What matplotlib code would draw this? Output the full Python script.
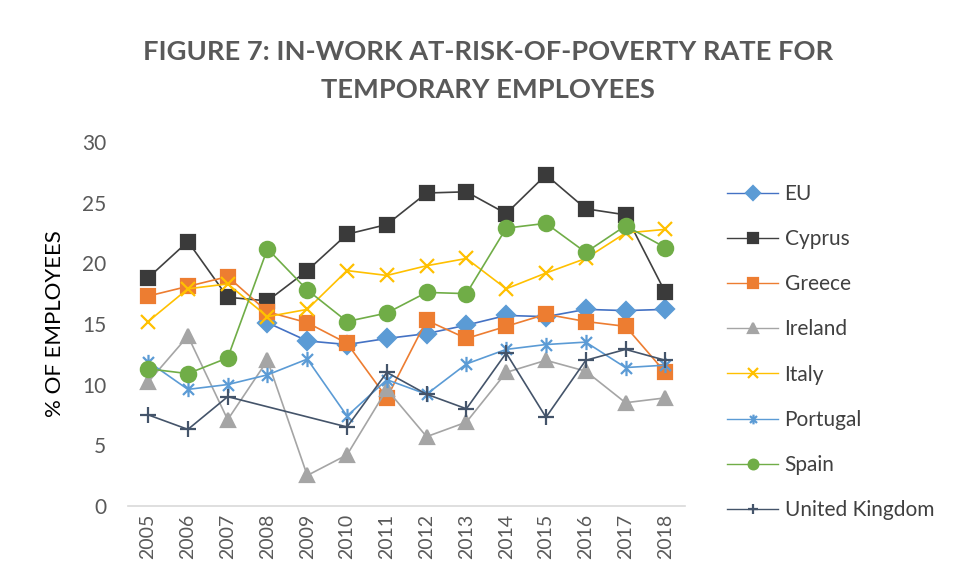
import numpy as np
import matplotlib
matplotlib.use('Agg')
import matplotlib.pyplot as plt
from matplotlib.path import Path

plt.rcParams['font.family'] = ['Lato', 'DejaVu Sans']

years = ['2005', '2006', '2007', '2008', '2009', '2010', '2011',
         '2012', '2013', '2014', '2015', '2016', '2017', '2018']
nan = np.nan

# values (% of employees)
eu = [nan, nan, nan, 15.1, 13.6, 13.3, 13.8, 14.2, 14.9, 15.7, 15.6, 16.2, 16.1, 16.2]
cyprus = [18.8, 21.8, 17.2, 16.9, 19.4, 22.4, 23.2, 25.8, 25.9, 24.1, 27.3, 24.5, 24.0, 17.6]
greece = [17.3, 18.1, 18.9, 16.0, 15.1, 13.4, 8.9, 15.3, 13.8, 14.8, 15.8, 15.2, 14.8, 11.0]
ireland = [10.2, 14.0, 7.1, 12.0, 2.5, 4.2, 9.6, 5.7, 6.9, 11.0, 12.0, 11.1, 8.5, 8.9]
italy = [15.2, 17.9, 18.3, 15.6, 16.2, 19.4, 19.0, 19.8, 20.4, 17.9, 19.2, 20.4, 22.5, 22.8]
portugal = [11.9, 9.6, 10.0, 10.8, 12.1, 7.4, 10.4, 9.2, 11.7, 12.9, 13.3, 13.5, 11.4, 11.6]
spain = [11.3, 10.9, 12.2, 21.2, 17.8, 15.2, 15.9, 17.6, 17.5, 22.9, 23.3, 20.9, 23.1, 21.3]
uk = [7.5, 6.3, 9.0, nan, nan, 6.5, 11.0, 9.2, 8.0, 12.6, 7.3, 12.0, 12.9, 12.0]

# excel style asterisk: vertical bar plus an x
star = Path([(0, -1), (0, 1), (-0.72, -0.72), (0.72, 0.72), (-0.72, 0.72), (0.72, -0.72)],
            [Path.MOVETO, Path.LINETO, Path.MOVETO, Path.LINETO, Path.MOVETO, Path.LINETO])

series = [
    ('EU', eu, '#4472C4', '#5B9BD5', 'D', 9),
    ('Cyprus', cyprus, '#404040', '#3A3A3A', 's', 10),
    ('Greece', greece, '#ED7D31', '#ED7D31', 's', 10),
    ('Ireland', ireland, '#A5A5A5', '#A5A5A5', '^', 10),
    ('Italy', italy, '#FFC000', '#FFC000', 'x', 10),
    ('Portugal', portugal, '#5B9BD5', '#5B9BD5', star, 11),
    ('Spain', spain, '#70AD47', '#70AD47', 'o', 11),
    ('United Kingdom', uk, '#44546A', '#44546A', '+', 11),
]

fig = plt.figure(figsize=(9.57, 5.8), dpi=100)
ax = fig.add_axes([0.134, 0.128, 0.582, 0.627])

x = np.arange(len(years))
for name, vals, lc, mc, mk, ms in series:
    v = np.array(vals, dtype=float)
    ok = ~np.isnan(v)
    ax.plot(x[ok], v[ok], color=lc, linewidth=1.2, marker=mk, markersize=ms,
            markerfacecolor=mc, markeredgecolor=mc, markeredgewidth=1.6, label=name)

ax.set_xlim(-0.5, len(years) - 0.5)
ax.set_ylim(0, 30)
ax.set_yticks(range(0, 31, 5))
ax.set_xticks(x)
ax.set_xticklabels(years, rotation=90, fontsize=14, color='#595959')
ax.tick_params(axis='y', labelsize=15, labelcolor='#595959', length=0, pad=16)
ax.tick_params(axis='x', length=0, pad=6)
for s in ['top', 'right', 'left']:
    ax.spines[s].set_visible(False)
ax.spines['bottom'].set_color('#D9D9D9')
ax.spines['bottom'].set_linewidth(1.2)

ax.set_ylabel('% OF EMPLOYEES', fontsize=16, labelpad=12)

fig.text(0.51, 0.878, 'FIGURE 7: IN-WORK AT-RISK-OF-POVERTY RATE FOR\nTEMPORARY EMPLOYEES',
         ha='center', va='center', fontsize=19.6, fontweight='bold', color='#595959',
         linespacing=1.72)

leg = fig.legend(loc='upper left', bbox_to_anchor=(0.760, 0.683), frameon=False, fontsize=15,
                 labelspacing=1.21, handlelength=2.45, handletextpad=0.3,
                 borderaxespad=0, borderpad=0, labelcolor='#404040')
for h in leg.legend_handles:
    h.set_markersize(7)
    h.set_linewidth(1.0)

fig.savefig('out.png', dpi=100)
